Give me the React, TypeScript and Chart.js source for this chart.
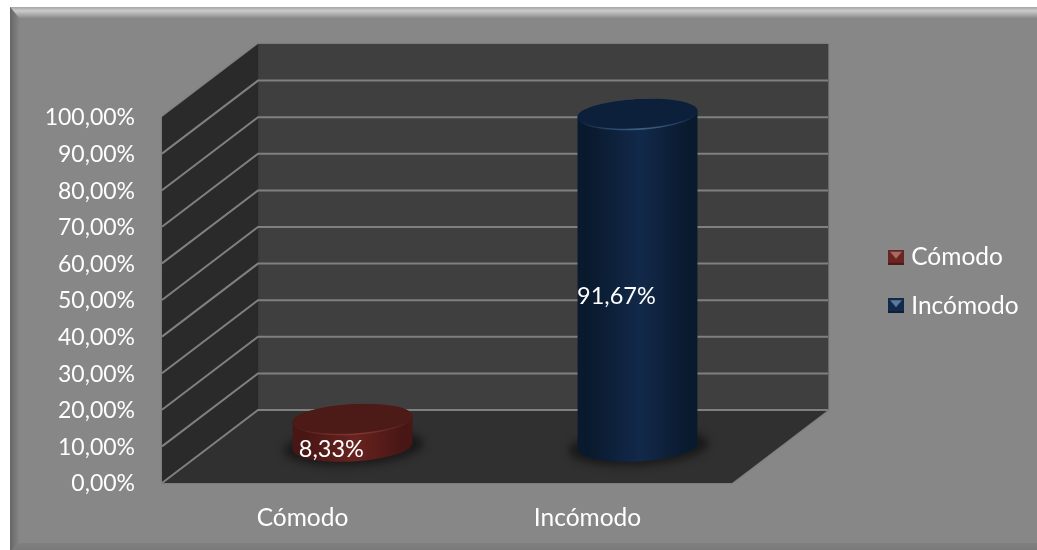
import React, { useEffect, useRef } from "react";
import { Chart, registerables } from "chart.js";

Chart.register(...registerables);

const categories = ["Cómodo", "Incómodo"];
const values = [8.33, 91.67];
const valueLabels = ["8,33%", "91,67%"];
const tickMin = 0;
const tickMax = 100;
const tickStep = 10;
const FONT = "Lato";
const sideColors = [
  { edge: "#481614", mid: "#67231f", top: "#4c1a17", rim: "rgba(150,70,60,0.55)", swatch: "#6a2422", light: "#a96a66" },
  { edge: "#0a1a2e", mid: "#12294a", top: "#0c203c", rim: "rgba(90,130,170,0.6)", swatch: "#11294a", light: "#5d7a9c" },
];

function swatch(c: { swatch: string; light: string }) {
  const s = document.createElement("canvas");
  s.width = 16;
  s.height = 15;
  const g = s.getContext("2d")!;
  g.fillStyle = c.swatch;
  g.fillRect(0, 0, 16, 15);
  g.fillStyle = c.light;
  g.beginPath();
  g.moveTo(2, 2);
  g.lineTo(14, 2);
  g.lineTo(8, 9);
  g.closePath();
  g.fill();
  g.fillStyle = "rgba(0,0,0,0.25)";
  g.fillRect(0, 13, 16, 2);
  return s;
}

const DEPTH_X = 96;
const DEPTH_Y = 73;

const panelPlugin = {
  id: "panel",
  beforeDraw(chart: any) {
    const ctx = chart.ctx;
    const L = 10, T = 7, R = 1046, B = 552, b = 9;
    ctx.save();
    ctx.fillStyle = "#ffffff";
    ctx.fillRect(0, 0, chart.width, chart.height);
    ctx.fillStyle = "#878787";
    ctx.fillRect(L, T, R - L, B - T);
    let g = ctx.createLinearGradient(0, T, 0, T + b + 2);
    g.addColorStop(0, "#a5a5a5");
    g.addColorStop(0.35, "#cbcbcb");
    g.addColorStop(1, "#8c8c8c");
    ctx.fillStyle = g;
    ctx.beginPath();
    ctx.moveTo(L, T);
    ctx.lineTo(R, T);
    ctx.lineTo(R - b, T + b + 2);
    ctx.lineTo(L + b, T + b + 2);
    ctx.closePath();
    ctx.fill();
    g = ctx.createLinearGradient(L, 0, L + b, 0);
    g.addColorStop(0, "#666666");
    g.addColorStop(1, "#858585");
    ctx.fillStyle = g;
    ctx.beginPath();
    ctx.moveTo(L, T);
    ctx.lineTo(L + b, T + b + 2);
    ctx.lineTo(L + b, B - b);
    ctx.lineTo(L, B);
    ctx.closePath();
    ctx.fill();
    g = ctx.createLinearGradient(0, B - 9, 0, B);
    g.addColorStop(0, "#808080");
    g.addColorStop(1, "#787878");
    ctx.fillStyle = g;
    ctx.beginPath();
    ctx.moveTo(L, B);
    ctx.lineTo(L + b, B - 9);
    ctx.lineTo(R - b, B - 9);
    ctx.lineTo(R, B);
    ctx.closePath();
    ctx.fill();
    ctx.restore();

    const legend = chart.legend;
    legend.left = 869;
    legend.right = 1037;
    legend.top = 221;
    legend.bottom = 550;
  },
};

const wallsPlugin = {
  id: "walls",
  beforeDatasetsDraw(chart: any) {
    const { ctx, scales } = chart;
    const y = scales.y;
    const l = chart.chartArea.left;
    const r = chart.chartArea.right;
    const y0 = y.getPixelForValue(tickMin);
    const y1 = y.getPixelForValue(tickMax);
    ctx.save();
    ctx.shadowColor = "rgba(0,0,0,0.25)";
    ctx.shadowBlur = 2;
    ctx.fillStyle = "#3f3f3f";
    ctx.fillRect(l + DEPTH_X, y1 - DEPTH_Y, r - l, y0 - y1);
    ctx.fillStyle = "#2a2a2a";
    ctx.beginPath();
    ctx.moveTo(l, y0);
    ctx.lineTo(l + DEPTH_X, y0 - DEPTH_Y);
    ctx.lineTo(l + DEPTH_X, y1 - DEPTH_Y);
    ctx.lineTo(l, y1);
    ctx.closePath();
    ctx.fill();
    ctx.fillStyle = "#303030";
    ctx.beginPath();
    ctx.moveTo(l, y0);
    ctx.lineTo(l + DEPTH_X, y0 - DEPTH_Y);
    ctx.lineTo(r + DEPTH_X, y0 - DEPTH_Y);
    ctx.lineTo(r, y0);
    ctx.closePath();
    ctx.fill();
    ctx.shadowColor = "transparent";
    ctx.strokeStyle = "#808080";
    ctx.lineWidth = 2;
    y.ticks.forEach((t: any) => {
      if (t.value === tickMax) return;
      const p = y.getPixelForValue(t.value);
      ctx.beginPath();
      ctx.moveTo(l, p);
      ctx.lineTo(l + DEPTH_X, p - DEPTH_Y);
      ctx.lineTo(r + DEPTH_X, p - DEPTH_Y);
      ctx.stroke();
    });
    ctx.lineWidth = 1;
    ctx.strokeStyle = "#6a6a6a";
    ctx.beginPath();
    ctx.moveTo(r + DEPTH_X + 0.5, y1 - DEPTH_Y);
    ctx.lineTo(r + DEPTH_X + 0.5, y0 - DEPTH_Y);
    ctx.stroke();
    ctx.restore();
  },
  afterDatasetsDraw(chart: any) {
    const { ctx } = chart;
    const meta = chart.getDatasetMeta(0);
    const RY = 15.5;
    const tilt = -0.055;
    const LIFT = 3.5;
    meta.data.forEach((bar: any, i: number) => {
      const c = sideColors[i];
      const cx = bar.x + DEPTH_X / 2;
      const rx = bar.width / 2;
      const baseY = bar.base - DEPTH_Y / 2 - 0.5;
      const topY = bar.y - DEPTH_Y / 2 + LIFT;
      ctx.save();
      ctx.filter = "blur(4px)";
      ctx.fillStyle = "rgba(10,10,10,0.6)";
      ctx.beginPath();
      ctx.ellipse(cx + 1, baseY + 1, rx + 10, RY + 3, tilt, 0, Math.PI * 2);
      ctx.fill();
      ctx.restore();

      const dy = Math.sin(tilt) * rx;
      ctx.save();
      const g = ctx.createLinearGradient(cx - rx, 0, cx + rx, 0);
      g.addColorStop(0, c.edge);
      g.addColorStop(0.1, c.edge);
      g.addColorStop(0.52, c.mid);
      g.addColorStop(0.92, c.edge);
      g.addColorStop(1, c.edge);
      ctx.fillStyle = g;
      ctx.beginPath();
      ctx.ellipse(cx, baseY, rx, RY, tilt, 0, Math.PI);
      ctx.lineTo(cx - rx, topY - dy);
      ctx.lineTo(cx + rx, topY + dy);
      ctx.closePath();
      ctx.fill();

      const rim = ctx.createLinearGradient(cx - rx, 0, cx + rx, 0);
      rim.addColorStop(0, c.top);
      rim.addColorStop(0.55, c.rim);
      rim.addColorStop(1, c.top);
      ctx.fillStyle = rim;
      ctx.beginPath();
      ctx.ellipse(cx, topY, rx, RY, tilt, 0, Math.PI * 2);
      ctx.fill();
      ctx.fillStyle = c.top;
      ctx.beginPath();
      ctx.ellipse(cx, topY - 0.8, rx, RY - 0.8, tilt, 0, Math.PI * 2);
      ctx.fill();
      ctx.restore();
    });
    ctx.save();
    ctx.fillStyle = "#ffffff";
    ctx.font = `23.5px ${FONT}`;
    ctx.textAlign = "center";
    ctx.textBaseline = "middle";
    meta.data.forEach((bar: any, i: number) => {
      const midY = (bar.y + bar.base) / 2;
      ctx.fillText(valueLabels[i], bar.x + DEPTH_X * 0.28, midY - DEPTH_Y * 0.27 + 1);
    });
    ctx.restore();
  },
};

export default function App() {
  const ref = useRef<HTMLCanvasElement>(null);
  useEffect(() => {
    document.body.style.margin = "0";
    const chart = new Chart(ref.current!, {
      type: "bar",
      data: {
        labels: categories,
        datasets: [
          {
            label: "Valores",
            data: values,
            backgroundColor: "rgba(0,0,0,0)",
            barPercentage: 120 / 285,
            categoryPercentage: 1,
          },
        ],
      },
      plugins: [panelPlugin, wallsPlugin],
      options: {
        animation: false,
        responsive: false,
        layout: { padding: { top: 117, right: 155, bottom: 0, left: 0 } },
        scales: {
          x: {
            grid: { display: false, drawTicks: false },
            border: { display: false },
            afterFit: (s: any) => {
              s.height = 67;
            },
            ticks: {
              color: "#ffffff",
              padding: 20,
              maxRotation: 0,
              labelOffset: -2,
              font: { family: FONT, size: 24.5 },
            },
          },
          y: {
            min: tickMin,
            max: tickMax,
            grid: { display: false, drawTicks: false },
            border: { display: false },
            afterFit: (s: any) => {
              s.width = 162;
            },
            ticks: {
              stepSize: tickStep,
              color: "#ffffff",
              padding: 27,
              labelOffset: 1,
              font: { family: FONT, size: 23 },
              callback: (v: any) => Number(v).toFixed(2).replace(".", ",") + "%",
            },
          },
        },
        plugins: {
          tooltip: { enabled: false },
          legend: {
            display: true,
            position: "right",
            align: "start",
            maxWidth: 150,
            labels: {
              usePointStyle: true,
              boxWidth: 6,
              padding: 24,
              color: "#ffffff",
              font: { family: FONT, size: 24.5 },
              generateLabels: () =>
                categories.map((t, i) => ({
                  text: t,
                  fontColor: "#ffffff",
                  pointStyle: swatch(sideColors[i]),
                  fillStyle: sideColors[i].swatch,
                  strokeStyle: sideColors[i].swatch,
                  lineWidth: 0,
                  hidden: false,
                  index: i,
                })),
            },
          },
        },
      },
    } as any);
    return () => chart.destroy();
  }, []);
  return <canvas ref={ref} width={1037} height={550} style={{ display: "block" }} />;
}
